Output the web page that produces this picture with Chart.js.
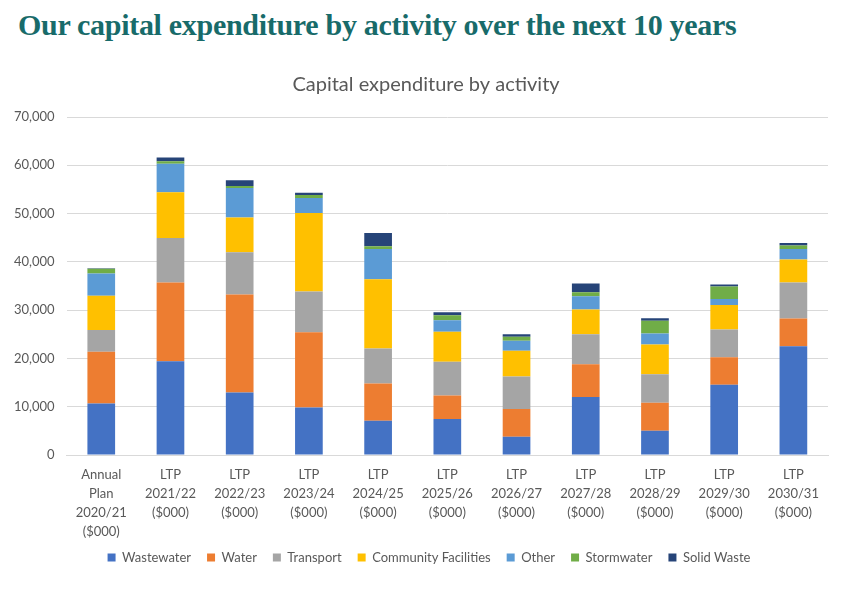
<!DOCTYPE html>
<html>
<head>
<meta charset="utf-8">
<script src="https://cdn.jsdelivr.net/npm/chart.js@4/dist/chart.umd.min.js"></script>
<style>
  html, body { margin: 0; padding: 0; background: #fff; }
  body { width: 864px; height: 595px; position: relative; overflow: hidden; }
  h1 {
    position: absolute; left: 18px; top: 8px; margin: 0;
    font-family: "Liberation Serif", "DejaVu Serif", serif;
    font-weight: bold; font-size: 30px; color: #186b6a;
    letter-spacing: -0.3px; white-space: nowrap;
  }
  #wrap { position: absolute; left: 0; top: 60px; width: 864px; height: 535px; }
</style>
</head>
<body>
<h1 id="heading">Our capital expenditure by activity over the next 10 years</h1>
<div id="wrap"><canvas id="chart"></canvas></div>
<script>
// categories (each label split into lines)
var categories = [
  ['Annual', 'Plan', '2020/21', '($000)'],
  ['LTP', '2021/22', '($000)'],
  ['LTP', '2022/23', '($000)'],
  ['LTP', '2023/24', '($000)'],
  ['LTP', '2024/25', '($000)'],
  ['LTP', '2025/26', '($000)'],
  ['LTP', '2026/27', '($000)'],
  ['LTP', '2027/28', '($000)'],
  ['LTP', '2028/29', '($000)'],
  ['LTP', '2029/30', '($000)'],
  ['LTP', '2030/31', '($000)']
];

// values, $000
var wastewater          = [10700, 19450, 12970,  9860,  7100,  7450,  3790, 12000,  5030, 14550, 22550];
var water               = [10700, 16270, 20270, 15590,  7730,  4890,  5730,  6830,  5800,  5730,  5730];
var transport           = [ 4500,  9250,  8760,  8410,  7240,  6970,  6760,  6200,  5930,  5720,  7440];
var communityFacilities = [ 7100,  9440,  7170, 16280, 14340,  6210,  5310,  5110,  6140,  5100,  4760];
var other               = [ 4600,  5930,  6140,  3100,  6280,  2410,  2070,  2760,  2270,  1240,  2210];
var stormwater          = [ 1000,   490,   410,   620,   550,  1040,   820,   820,  2620,  2560,   690];
var solidWaste          = [  100,   760,  1180,   480,  2760,   620,   550,  1800,   550,   410,   550];

var seriesNames = ['Wastewater', 'Water', 'Transport', 'Community Facilities', 'Other', 'Stormwater', 'Solid Waste'];
var seriesData = [wastewater, water, transport, communityFacilities, other, stormwater, solidWaste];
var seriesColors = ['#4472c4', '#ed7d31', '#a5a5a5', '#ffc000', '#5b9bd5', '#70ad47', '#264478'];

var yTicks = [0, 10000, 20000, 30000, 40000, 50000, 60000, 70000];

var textColor = '#595959';
var fontFamily = 'Lato, "Open Sans", sans-serif';

var datasets = seriesNames.map(function(name, i){
  return {
    label: name,
    data: seriesData[i],
    backgroundColor: seriesColors[i],
    borderWidth: 0,
    categoryPercentage: 1.0,
    barPercentage: 0.4
  };
});

// title and legend sit a little right of the canvas centre in the original,
// and the legend hugs the axis labels
var nudgeBoxes = {
  id: 'nudgeBoxes',
  afterLayout: function(chart){
    [[chart.titleBlock, 11, 0], [chart.legend, 14, -8]].forEach(function(p){
      if (!p[0]) return;
      p[0].left += p[1];
      p[0].right += p[1];
      p[0].top += p[2];
      p[0].bottom += p[2];
    });
  }
};

new Chart(document.getElementById('chart'), {
  type: 'bar',
  data: { labels: categories, datasets: datasets },
  plugins: [nudgeBoxes],
  options: {
    responsive: true,
    maintainAspectRatio: false,
    animation: false,
    layout: { padding: { left: 2, right: 36, top: 6, bottom: 13 } },
    plugins: {
      title: {
        display: true,
        text: 'Capital expenditure by activity',
        color: textColor,
        font: { family: fontFamily, size: 20, weight: 'normal' },
        padding: { top: 7, bottom: 20 }
      },
      legend: {
        position: 'bottom',
        labels: {
          boxWidth: 8, boxHeight: 8, padding: 16,
          color: textColor,
          font: { family: fontFamily, size: 13 }
        }
      },
      tooltip: { enabled: false }
    },
    scales: {
      x: {
        stacked: true,
        grid: { display: false },
        border: { color: '#d9d9d9' },
        ticks: {
          color: textColor, maxRotation: 0, autoSkip: false, padding: 2,
          font: { family: fontFamily, size: 13, lineHeight: 1.46 }
        }
      },
      y: {
        stacked: true,
        min: 0, max: 70000,
        afterBuildTicks: function(axis){
          axis.ticks = yTicks.map(function(v){ return { value: v }; });
        },
        grid: { color: '#d9d9d9', drawTicks: false },
        border: { display: false },
        ticks: {
          color: textColor, padding: 12,
          font: { family: fontFamily, size: 13 },
          callback: function(v){ return v.toLocaleString('en-US'); }
        }
      }
    }
  }
});
</script>
</body>
</html>
